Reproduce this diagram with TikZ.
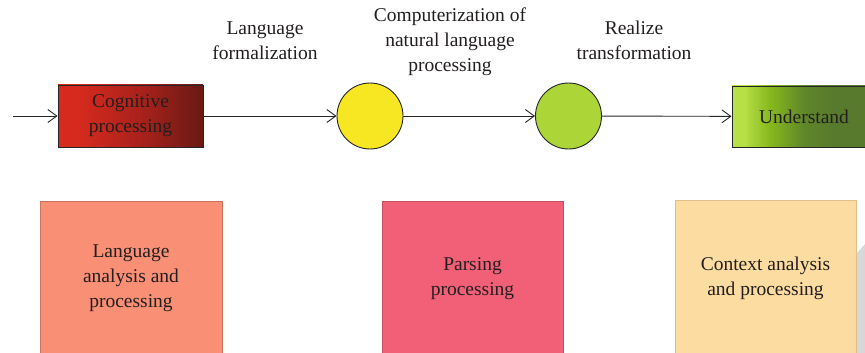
\documentclass[tikz,border=0pt]{standalone}
\usepackage{fontspec}
\setmainfont{Liberation Serif}
\usetikzlibrary{arrows.meta}
\definecolor{txt}{RGB}{35,31,32}
\definecolor{cogA}{RGB}{214,42,30}
\definecolor{cogB}{RGB}{165,33,27}
\definecolor{cogC}{RGB}{105,25,20}
\definecolor{undA}{RGB}{182,224,70}
\definecolor{undB}{RGB}{135,185,30}
\definecolor{undC}{RGB}{95,135,42}
\definecolor{undD}{RGB}{88,122,45}
\definecolor{yel}{RGB}{247,230,34}
\definecolor{grn}{RGB}{172,214,56}
\definecolor{boxA}{RGB}{249,143,116}
\definecolor{boxAd}{RGB}{205,115,92}
\definecolor{boxB}{RGB}{242,96,120}
\definecolor{boxBd}{RGB}{200,80,100}
\definecolor{boxC}{RGB}{252,220,160}
\definecolor{boxCd}{RGB}{225,190,140}
\definecolor{fold}{RGB}{215,215,215}
\pgfdeclarehorizontalshading{cogshade}{100bp}{color(0bp)=(cogA); color(32bp)=(cogA); color(55bp)=(cogB); color(75bp)=(cogC); color(100bp)=(cogC)}
\pgfdeclarehorizontalshading{undshade}{100bp}{color(0bp)=(undA); color(29bp)=(undA); color(38bp)=(undB); color(50bp)=(undC); color(60bp)=(undD); color(100bp)=(undD)}
\begin{document}
\begin{tikzpicture}[x=1pt,y=-1pt,
  every node/.style={text=txt,font=\fontsize{19.5}{25}\selectfont,align=center,inner sep=0pt},
  arr/.style={draw=black!85,line width=0.9pt,-{Straight Barb[length=9pt,width=13pt,line width=0.9pt]}},
  topbox/.style={draw=black!85,line width=0.9pt},
  circ/.style={circle,draw=black!85,line width=0.9pt,minimum size=66pt},
  lowbox/.style={line width=0.9pt,minimum width=181pt,minimum height=155pt}]
\useasboundingbox (0,0) rectangle (865,353);
% top row
\coordinate (start) at (13,116);
\node[topbox,shading=cogshade,minimum width=145pt,minimum height=62pt] (cog) at (130.5,116) {Cognitive\\processing};
\node[circ,fill=yel] (yc) at (370,116) {};
\node[circ,fill=grn] (gc) at (568.5,116) {};
\node[topbox,shading=undshade,minimum width=144pt,minimum height=61pt] (und) at (804,116.5) {Understand};
\draw[arr] (start) -- (cog);
\draw[arr] (cog) -- (yc);
\draw[arr] (yc) -- (gc);
\draw[arr] (gc) -- (und);
% labels
\node (l1) at (265,40.5) {Language\\formalization};
\node (l2) at (450,42) {Computerization of\\natural language\\processing};
\node (l3) at (634,40.5) {Realize\\transformation};
% lower boxes
\node[lowbox,draw=boxAd,fill=boxA,minimum width=182pt] (b1) at (131,278.5) {Language\\analysis and\\processing};
\node[lowbox,draw=boxBd,fill=boxB] (b2) at (472.5,278.5) {Parsing\\processing};
\node[lowbox,draw=boxCd,fill=boxC] (b3) at (765.5,278) {Context analysis\\and processing};
% page fold shadow
\fill[fold] (857,253) -- (866,243) -- (866,354) -- (857,354) -- cycle;
\end{tikzpicture}
\end{document}
